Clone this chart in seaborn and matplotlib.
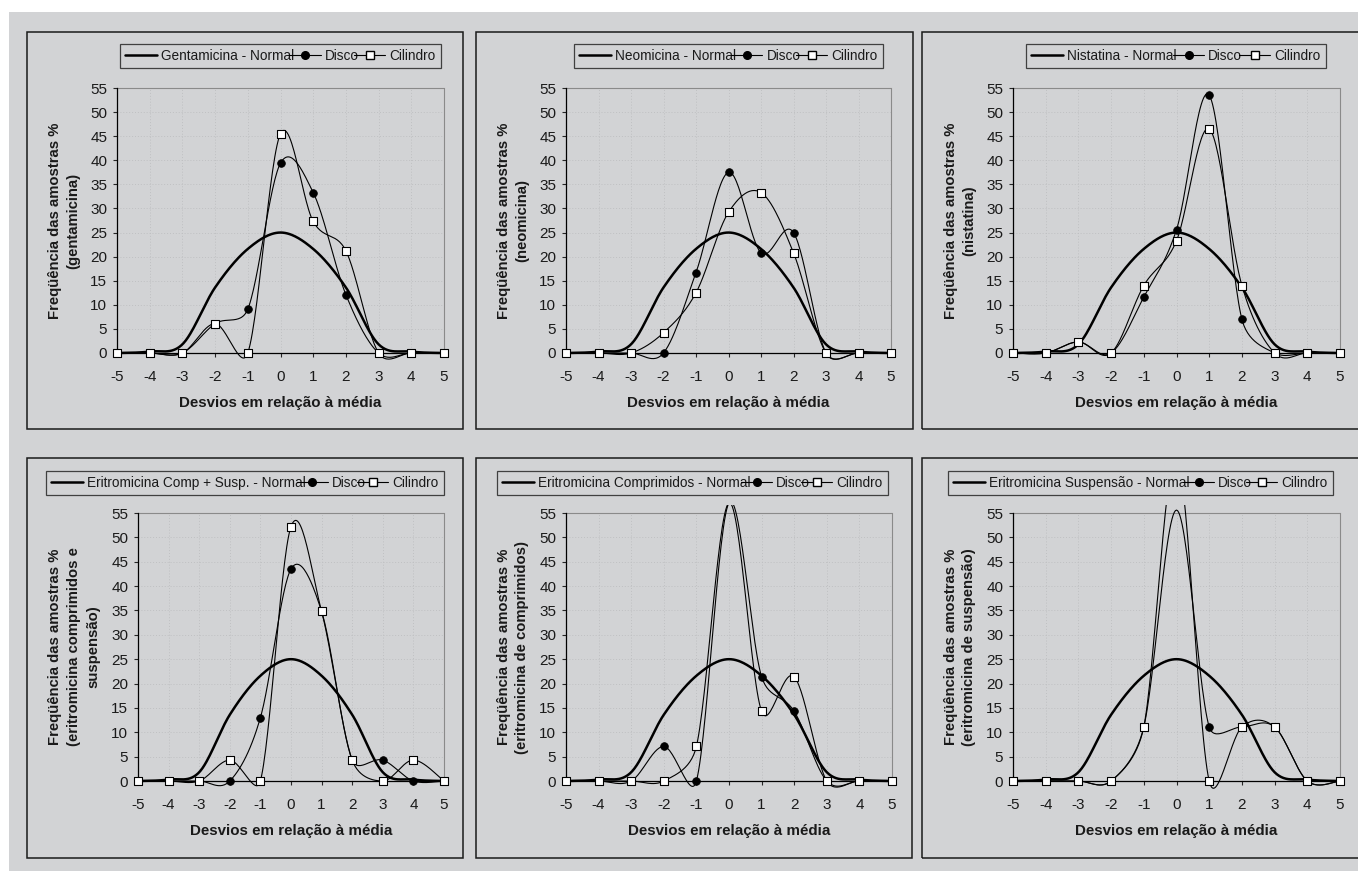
"""Six panels: sample frequency vs deviation from the mean (Disco, Cilindro, Normal)."""

import matplotlib

matplotlib.use("Agg")

import matplotlib.pyplot as plt
import numpy as np
import seaborn as sns
from matplotlib.lines import Line2D
from matplotlib.patches import Rectangle

W, H = 1358, 871
BG = "#d2d3d5"
GRID = "#bfc0c2"
FRAME_GRAY = "#8a8a8a"

DESVIOS = [-5, -4, -3, -2, -1, 0, 1, 2, 3, 4, 5]
XTICK_LABELS = ["-5", "-4", "-3", "-2", "-1", "0", "1", "2", "3", "4", "5"]
YTICKS = [0, 5, 10, 15, 20, 25, 30, 35, 40, 45, 50, 55]

NORMAL = [0, 0.3, 1.8, 13.6, 21.6, 25.0, 21.6, 13.6, 1.8, 0.3, 0]

GENTAMICINA_DISCO = [0, 0, 0, 6.1, 9.1, 39.4, 33.3, 12.1, 0, 0, 0]
GENTAMICINA_CILINDRO = [0, 0, 0, 6.1, 0, 45.5, 27.3, 21.2, 0, 0, 0]
NEOMICINA_DISCO = [0, 0, 0, 0, 16.7, 37.5, 20.8, 25.0, 0, 0, 0]
NEOMICINA_CILINDRO = [0, 0, 0, 4.2, 12.5, 29.2, 33.3, 20.8, 0, 0, 0]
NISTATINA_DISCO = [0, 0, 2.3, 0, 11.6, 25.6, 53.5, 7.0, 0, 0, 0]
NISTATINA_CILINDRO = [0, 0, 2.3, 0, 14.0, 23.3, 46.5, 14.0, 0, 0, 0]
ERITRO_CS_DISCO = [0, 0, 0, 0, 13.0, 43.5, 34.8, 4.3, 4.3, 0, 0]
ERITRO_CS_CILINDRO = [0, 0, 0, 4.3, 0, 52.2, 34.8, 4.3, 0, 4.3, 0]
ERITRO_COMP_DISCO = [0, 0, 0, 7.1, 0, 57.1, 21.4, 14.3, 0, 0, 0]
ERITRO_COMP_CILINDRO = [0, 0, 0, 0, 7.1, 57.1, 14.3, 21.4, 0, 0, 0]
ERITRO_SUSP_DISCO = [0, 0, 0, 0, 11.1, 55.6, 11.1, 11.1, 11.1, 0, 0]
ERITRO_SUSP_CILINDRO = [0, 0, 0, 0, 11.1, 66.7, 0, 11.1, 11.1, 0, 0]

NORMAL_NAMES = [
    "Gentamicina - Normal",
    "Neomicina - Normal",
    "Nistatina - Normal",
    "Eritromicina Comp + Susp. - Normal",
    "Eritromicina Comprimidos - Normal",
    "Eritromicina Suspensão - Normal",
]
YLABELS = [
    "Freqüência das amostras %\n(gentamicina)",
    "Freqüência das amostras %\n(neomicina)",
    "Freqüência das amostras %\n(nistatina)",
    "Freqüência das amostras %\n(eritromicina comprimidos e\nsuspensão)",
    "Freqüência das amostras %\n(eritromicina de comprimidos)",
    "Freqüência das amostras %\n(eritromicina de suspensão)",
]
XLABEL = "Desvios em relação à média"

# pixel layout: frame box, plot box (left, right, y at 55, y at 0), legend box, ylabel x
LAYOUT = [
    dict(frame=(27, 32, 463, 429), plot=(117, 444, 88, 353), legend=(120, 43, 441, 69), ylab=64),
    dict(frame=(476, 32, 913, 429), plot=(566, 891, 88, 353), legend=(574, 43, 883, 69), ylab=513),
    dict(frame=(922, 32, 1365, 429), plot=(1013, 1340, 88, 353), legend=(1026, 43, 1326, 69), ylab=960),
    dict(frame=(27, 458, 463, 858), plot=(138, 444, 513, 781), legend=(46, 470, 444, 496), ylab=74),
    dict(frame=(476, 458, 912, 858), plot=(566, 892, 513, 781), legend=(497, 470, 888, 496), ylab=513),
    dict(frame=(922, 458, 1365, 858), plot=(1013, 1340, 513, 781), legend=(948, 470, 1333, 496), ylab=960),
]

YMIN, YMAX = -1.6, 56.6


def fx(x):
    return x / W


def fy(y):
    return 1 - y / H


def excel_smooth(xs, ys, sx, sy, n=30):
    """Bezier smoothing like Excel's 'smoothed line', computed in screen space."""
    pts = np.column_stack([np.asarray(xs, float) * sx, np.asarray(ys, float) * sy])
    out = [pts[0]]
    t = np.linspace(0, 1, n)[1:, None]
    for i in range(len(pts) - 1):
        p1, p2 = pts[i], pts[i + 1]
        p0 = pts[i - 1] if i > 0 else p1
        p3 = pts[i + 2] if i + 2 < len(pts) else p2
        d12 = np.hypot(*(p2 - p1))
        d02 = np.hypot(*(p2 - p0))
        d13 = np.hypot(*(p3 - p1))
        if d02 / 6 < d12 / 2:
            b1 = p1 + (p2 - p0) / 6
        else:
            b1 = p1 + (p2 - p0) * (d12 / 2) / d02
        if d13 / 6 < d12 / 2:
            b2 = p2 - (p3 - p1) / 6
        else:
            b2 = p2 - (p3 - p1) * (d12 / 2) / d13
        seg = (1 - t) ** 3 * p1 + 3 * (1 - t) ** 2 * t * b1 + 3 * (1 - t) * t ** 2 * b2 + t ** 3 * p2
        out.extend(seg)
    out = np.array(out)
    return out[:, 0] / sx, out[:, 1] / sy


def in_range(values):
    # Excel hides markers that fall above the axis maximum
    xs = [x for x, v in zip(DESVIOS, values) if v <= YTICKS[-1]]
    ys = [v for v in values if v <= YTICKS[-1]]
    return xs, ys


def draw_panel(fig, lay, normal_name, ylabel, disco, cilindro):
    fx0, fy0, fx1, fy1 = lay["frame"]
    fig.patches.append(Rectangle((fx(fx0), fy(fy1)), fx(fx1 - fx0), (fy1 - fy0) / H,
                                 transform=fig.transFigure, fill=False,
                                 edgecolor="#1a1a1a", linewidth=1.1))

    left, right, y55, y0 = lay["plot"]
    unit = (y0 - y55) / 55
    top_px = y55 - (YMAX - 55) * unit
    bot_px = y0 - YMIN * unit
    ax = fig.add_axes([fx(left), fy(bot_px), (right - left) / W, (bot_px - top_px) / H])
    ax.set_facecolor("none")
    ax.set_xlim(-5, 5)
    ax.set_ylim(YMIN, YMAX)

    # plot-area grid and frame
    ax.hlines(YTICKS[1:-1], -5, 5, colors=GRID, linestyles=(0, (1, 2)), linewidth=0.7, zorder=0)
    ax.vlines(DESVIOS[1:-1], 0, 55, colors=GRID, linestyles=(0, (1, 2)), linewidth=0.7, zorder=0)
    ax.hlines(55, -5, 5, colors=FRAME_GRAY, linewidth=0.8, zorder=0)

    sx = (right - left) / 10
    sy = unit
    for values, lw in [(NORMAL, 1.8), (disco, 0.8), (cilindro, 0.8)]:
        xs, ys = excel_smooth(DESVIOS, values, sx, sy)
        sns.lineplot(x=xs, y=ys, ax=ax, color="black", linewidth=lw,
                     sort=False, estimator=None, legend=False, zorder=2)

    dx, dy = in_range(disco)
    cx, cy = in_range(cilindro)
    sns.scatterplot(x=dx, y=dy, ax=ax, marker="o", s=30, color="black",
                    edgecolor="black", linewidth=0.6, clip_on=False, zorder=3, legend=False)
    sns.scatterplot(x=cx, y=cy, ax=ax, marker="s", s=26, color="white",
                    edgecolor="black", linewidth=0.8, clip_on=False, zorder=4, legend=False)

    ax.spines["top"].set_visible(False)
    ax.spines["right"].set_bounds(0, 55)
    ax.spines["right"].set_color(FRAME_GRAY)
    ax.spines["right"].set_linewidth(0.8)
    ax.spines["left"].set_bounds(0, 55)
    ax.spines["left"].set_linewidth(0.9)
    ax.spines["left"].set_color("black")
    ax.spines["bottom"].set_position(("data", 0))
    ax.spines["bottom"].set_linewidth(0.9)
    ax.spines["bottom"].set_color("black")

    ax.set_xticks(DESVIOS)
    ax.set_xticklabels(XTICK_LABELS)
    ax.set_yticks(YTICKS)
    ax.set_yticklabels([str(v) for v in YTICKS])
    ax.tick_params(axis="x", direction="out", length=3, width=0.8, pad=9, labelsize=11,
                   labelcolor="#1a1a1a")
    ax.tick_params(axis="y", direction="out", length=3, width=0.8, pad=4, labelsize=11,
                   labelcolor="#1a1a1a")
    ax.set_xlabel("")
    ax.set_ylabel("")

    fig.text(fx(lay["ylab"]), fy((y55 + y0) / 2), ylabel, rotation=90, ha="center", va="center",
             multialignment="center", fontsize=10.7, fontweight="bold", linespacing=1.45,
             color="#1a1a1a")
    fig.text(fx((left + right) / 2), fy(y0 + 50), XLABEL, ha="center", va="center",
             fontsize=10.9, fontweight="bold", color="#1a1a1a")

    handles = [
        Line2D([], [], color="black", linewidth=1.8),
        Line2D([], [], color="black", linewidth=0.8, marker="o", markersize=5.5,
               markerfacecolor="black", markeredgecolor="black"),
        Line2D([], [], color="black", linewidth=0.8, marker="s", markersize=5.2,
               markerfacecolor="white", markeredgecolor="black"),
    ]
    lx0, ly0, lx1, ly1 = lay["legend"]
    leg = ax.legend(handles, [normal_name, "Disco", "Cilindro"], loc="center", ncol=3,
                    bbox_to_anchor=(fx(lx0), fy(ly1), (lx1 - lx0) / W, (ly1 - ly0) / H),
                    bbox_transform=fig.transFigure, mode="expand", frameon=True,
                    fancybox=False, framealpha=1, facecolor=BG, edgecolor="#404040",
                    fontsize=9.8, handlelength=2.3, handletextpad=0.3, columnspacing=0.2,
                    borderpad=0.4, borderaxespad=0)
    leg.get_frame().set_linewidth(0.9)
    for text in leg.get_texts():
        text.set_color("#1a1a1a")


def main() -> None:
    sns.set_theme(style="ticks")
    plt.rcParams["font.family"] = ["Liberation Sans", "DejaVu Sans"]
    plt.rcParams["axes.unicode_minus"] = False

    fig = plt.figure(figsize=(W / 100, H / 100), dpi=100, facecolor="white")
    fig.patches.append(Rectangle((fx(9), 0), 1 - fx(9), fy(12), transform=fig.transFigure,
                                 facecolor=BG, edgecolor="none", zorder=-10))

    series = [
        (GENTAMICINA_DISCO, GENTAMICINA_CILINDRO),
        (NEOMICINA_DISCO, NEOMICINA_CILINDRO),
        (NISTATINA_DISCO, NISTATINA_CILINDRO),
        (ERITRO_CS_DISCO, ERITRO_CS_CILINDRO),
        (ERITRO_COMP_DISCO, ERITRO_COMP_CILINDRO),
        (ERITRO_SUSP_DISCO, ERITRO_SUSP_CILINDRO),
    ]
    for lay, name, ylab, (disco, cil) in zip(LAYOUT, NORMAL_NAMES, YLABELS, series):
        draw_panel(fig, lay, name, ylab, disco, cil)

    fig.savefig("out.png", dpi=100, facecolor="white")
    plt.close(fig)


if __name__ == "__main__":
    main()
